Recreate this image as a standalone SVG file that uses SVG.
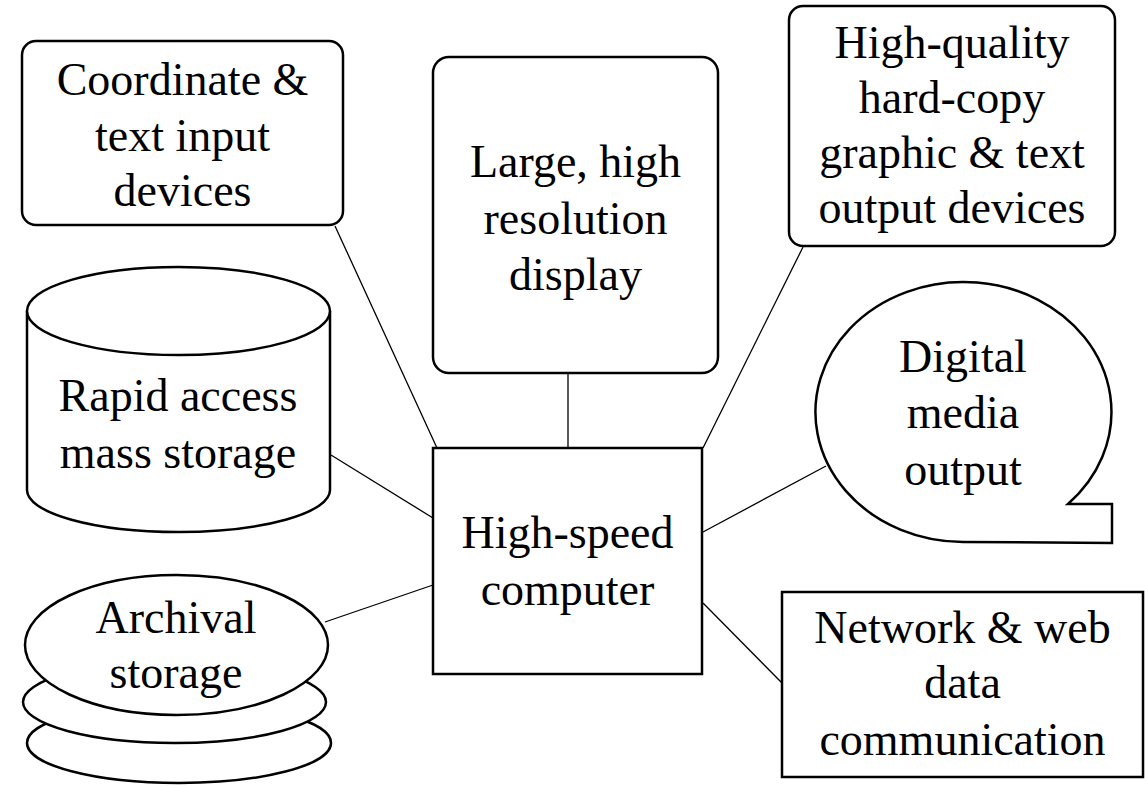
<svg xmlns="http://www.w3.org/2000/svg" width="1145" height="786" viewBox="0 0 1145 786">
<style>
.s{fill:#fff;stroke:#000;stroke-width:2.5}
.c{stroke:#000;stroke-width:1.3;fill:none}
text{font-family:"Liberation Serif","Times New Roman",serif;font-size:46px;fill:#000;text-anchor:middle}
</style>
<rect width="1145" height="786" fill="#fff"/>
<g id="connectors">
<line class="c" x1="335" y1="226" x2="437" y2="448"/>
<line class="c" x1="568" y1="373" x2="568" y2="448"/>
<line class="c" x1="803" y1="247" x2="703" y2="448"/>
<line class="c" x1="331" y1="455" x2="433" y2="518"/>
<line class="c" x1="325" y1="622" x2="433" y2="585"/>
<line class="c" x1="826" y1="466" x2="703" y2="532"/>
<line class="c" x1="703" y1="603" x2="782" y2="683"/>
</g>
<g id="coordinate">
<rect class="s" x="22" y="41" width="321" height="184" rx="14"/>
<text x="182.5" y="95">Coordinate &amp;</text>
<text x="182.5" y="151">text input</text>
<text x="182.5" y="206">devices</text>
</g>
<g id="display">
<rect class="s" x="433" y="57" width="285" height="316" rx="16"/>
<text x="575.5" y="177">Large, high</text>
<text x="575.5" y="234">resolution</text>
<text x="575.5" y="290">display</text>
</g>
<g id="hardcopy">
<rect class="s" x="789" y="6" width="326" height="240" rx="14"/>
<text x="952" y="58">High-quality</text>
<text x="952" y="113">hard-copy</text>
<text x="952" y="168">graphic &amp; text</text>
<text x="952" y="223">output devices</text>
</g>
<g id="mass-storage">
<path class="s" d="M27,311 L27,490 A151.5,42 0 0 0 330,490 L330,311"/>
<ellipse class="s" cx="178.5" cy="311" rx="151.5" ry="44"/>
<text x="178" y="411">Rapid access</text>
<text x="178" y="468">mass storage</text>
</g>
<g id="computer">
<rect class="s" x="433" y="448" width="269" height="226"/>
<text x="567.5" y="548">High-speed</text>
<text x="567.5" y="605">computer</text>
</g>
<g id="digital-media">
<path class="s" d="M1068,504 L1112,504 L1112,543 L963,542 A148,130 0 1 1 1068,504 Z"/>
<text x="963" y="372">Digital</text>
<text x="963" y="428">media</text>
<text x="963" y="485">output</text>
</g>
<g id="archival">
<ellipse class="s" cx="179" cy="743" rx="152" ry="40"/>
<ellipse class="s" cx="174.5" cy="702" rx="151.5" ry="41"/>
<ellipse class="s" cx="176.5" cy="645" rx="151.5" ry="70"/>
<text x="176" y="633">Archival</text>
<text x="176" y="688">storage</text>
</g>
<g id="network">
<rect class="s" x="782" y="592" width="361" height="185"/>
<text x="962.5" y="643">Network &amp; web</text>
<text x="962.5" y="698">data</text>
<text x="962.5" y="755">communication</text>
</g>
</svg>
